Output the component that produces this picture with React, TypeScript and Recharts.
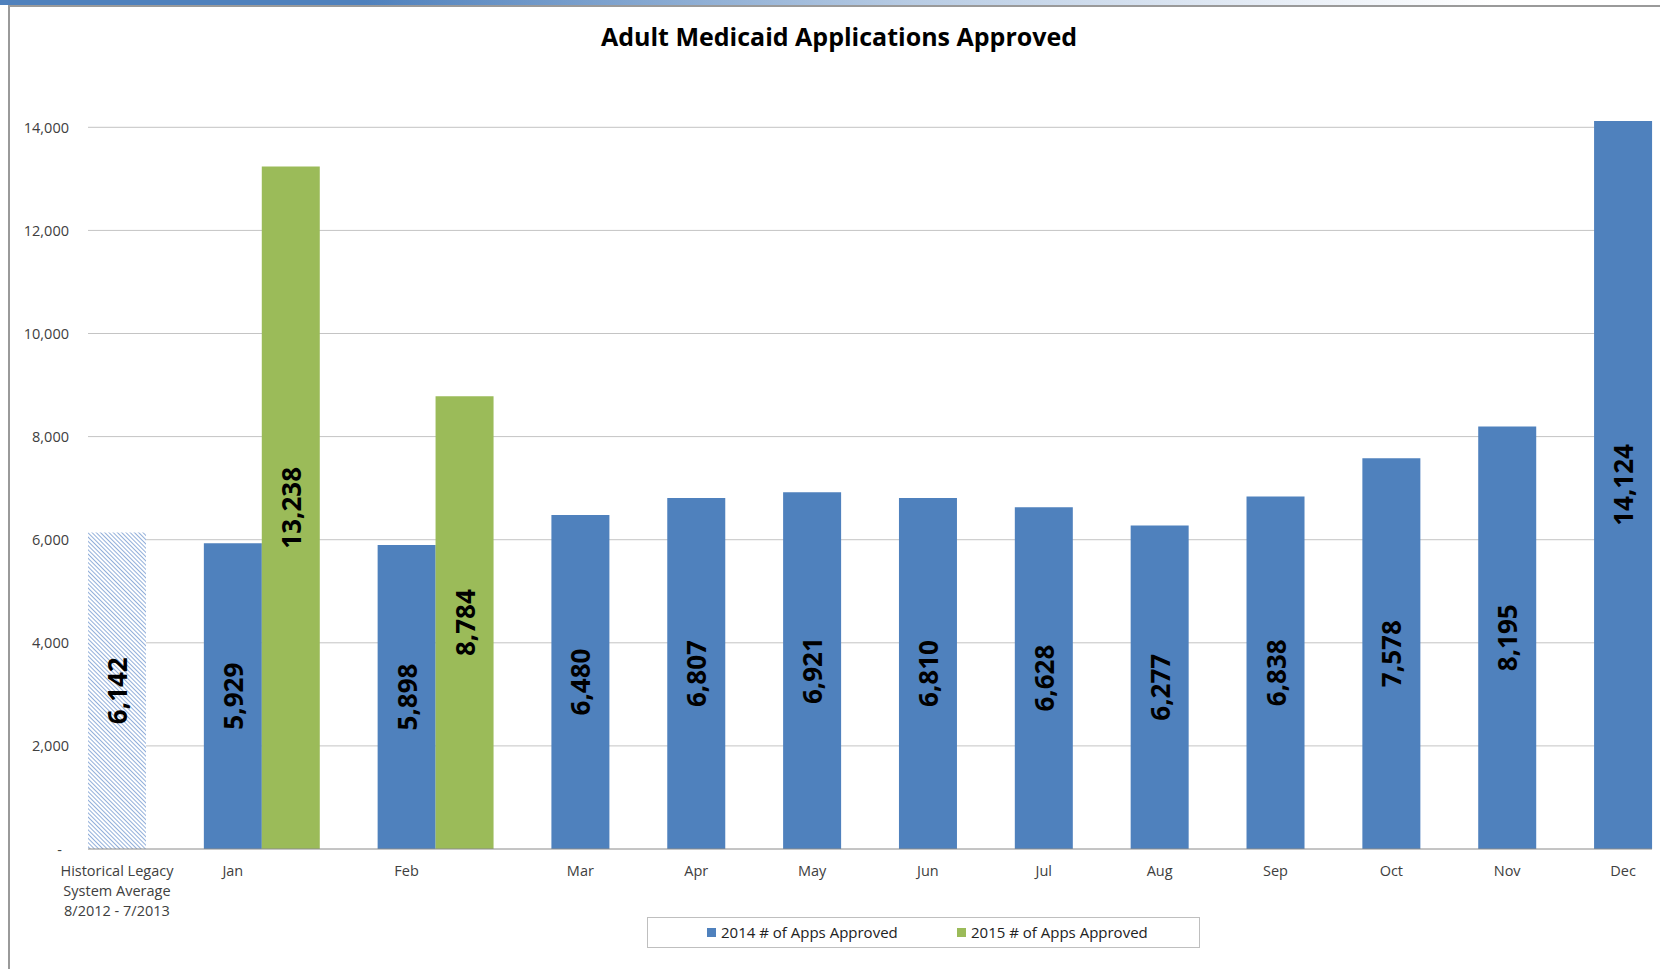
import React from 'react';
import { BarChart, Bar, XAxis, YAxis, CartesianGrid, Legend, LabelList } from 'recharts';

const chartTitle = 'Adult Medicaid Applications Approved';
const historicalLabel = ['Historical Legacy', 'System Average', '8/2012 - 7/2013'];
const historicalValue = 6142;
const months = ['Jan', 'Feb', 'Mar', 'Apr', 'May', 'Jun', 'Jul', 'Aug', 'Sep', 'Oct', 'Nov', 'Dec'];
const apps2014 = [5929, 5898, 6480, 6807, 6921, 6810, 6628, 6277, 6838, 7578, 8195, 14124];
const apps2015 = [13238, 8784]; // Jan, Feb
const yTicks = [0, 2000, 4000, 6000, 8000, 10000, 12000, 14000];
const series2014Name = '2014 # of Apps Approved';
const series2015Name = '2015 # of Apps Approved';

type Slot = { key: string; label: string[]; hist?: number; y2014?: number; y2015?: number };

const slots: Slot[] = [];
slots.push({ key: 'hist', label: historicalLabel, hist: historicalValue });
months.forEach((m, i) => {
  slots.push({ key: `gap-${m}`, label: [] });
  slots.push({ key: m, label: [m], y2014: apps2014[i] });
  if (apps2015[i] !== undefined) slots.push({ key: `${m}-2015`, label: [], y2015: apps2015[i] });
});

const FONT = '"Open Sans", "Liberation Sans", sans-serif';
const BLUE = '#4f81bd';
const GREEN = '#9bbb59';

const fmt = (v: number) => (v === 0 ? '-' : v.toLocaleString('en-US'));

const YTick = (props: any) => {
  const { x, y, payload } = props;
  const v = payload.value as number;
  return (
    <text
      x={v === 0 ? x - 26 : x - 19}
      y={y}
      textAnchor="end"
      dominantBaseline="central"
      fontFamily={FONT}
      fontSize={14.5}
      fill="#404040"
    >
      {fmt(v)}
    </text>
  );
};

const XTick = (props: any) => {
  const { x, y, payload, index } = props;
  const slot = slots[index ?? payload.index];
  if (!slot || slot.label.length === 0) return null;
  return (
    <text x={x} y={y} textAnchor="middle" fontFamily={FONT} fontSize={14.5} fill="#404040">
      {slot.label.map((line, i) => (
        <tspan key={i} x={x} y={y + 27 + i * 20}>
          {line}
        </tspan>
      ))}
    </text>
  );
};

const BarLabel = (props: any) => {
  const vb = props.viewBox && props.viewBox.width !== undefined ? props.viewBox : props;
  const { value } = props;
  if (value === null || value === undefined || value === 0) return null;
  const cx = vb.x + vb.width / 2;
  const cy = vb.y + vb.height / 2;
  return (
    <text
      x={cx}
      y={cy}
      transform={`rotate(-90, ${cx}, ${cy})`}
      textAnchor="middle"
      dominantBaseline="central"
      fontFamily={FONT}
      fontSize={26}
      fontWeight={700}
      fill="#000"
    >
      {Number(value).toLocaleString('en-US')}
    </text>
  );
};

const LegendContent = (props: any) => {
  const payload = (props.payload || []).filter((p: any) => p.type !== 'none');
  const lefts = [59, 309];
  return (
    <div
      style={{
        position: 'relative',
        boxSizing: 'border-box',
        width: 553,
        height: 31,
        border: '1px solid #bfbfbf',
        background: '#fff',
        fontFamily: FONT,
        fontSize: 15,
        color: '#222',
      }}
    >
      {payload.map((p: any, i: number) => (
        <div
          key={p.value}
          style={{
            position: 'absolute',
            left: lefts[i] ?? 60 + i * 250,
            top: 0,
            height: 28,
            display: 'flex',
            alignItems: 'center',
            whiteSpace: 'nowrap',
          }}
        >
          <span style={{ display: 'inline-block', width: 9, height: 9, background: p.color, marginRight: 5 }} />
          <span>{p.value}</span>
        </div>
      ))}
    </div>
  );
};

export default function App() {
  return (
    <div
      style={{
        position: 'absolute',
        left: 0,
        top: 0,
        width: 1660,
        height: 969,
        background: '#fff',
        overflow: 'hidden',
      }}
    >
      <div
        style={{
          position: 'absolute',
          left: 0,
          top: 0,
          width: 1660,
          height: 5,
          background: 'linear-gradient(to right, #4f81bd 0%, #4f81bd 22%, #b8cce4 55%, #e9eff7 78%, #ffffff 90%)',
        }}
      />
      <div style={{ position: 'absolute', left: 8, top: 5, width: 1652, height: 1.5, background: '#9a9a9a' }} />
      <div style={{ position: 'absolute', left: 8, top: 5, width: 2, height: 964, background: '#9a9a9a' }} />
      <div
        style={{
          position: 'absolute',
          left: 0,
          top: 19,
          width: 1678,
          textAlign: 'center',
          fontFamily: FONT,
          fontWeight: 700,
          fontSize: 25,
          lineHeight: '34px',
          color: '#000',
        }}
      >
        {chartTitle}
      </div>
      <div style={{ position: 'absolute', left: 0, top: 0 }}>
        <BarChart
          width={1660}
          height={969}
          data={slots}
          margin={{ top: 117, right: 8, left: 8, bottom: 0 }}
          barCategoryGap={0}
          barGap={0}
        >
          <defs>
            <pattern id="hatch" patternUnits="userSpaceOnUse" width="3" height="3" patternTransform="rotate(-45)">
              <rect width="3" height="3" fill="#ffffff" />
              <line x1="0" y1="0" x2="0" y2="3" stroke="#86a6d6" strokeWidth="1.8" />
            </pattern>
          </defs>
          <CartesianGrid vertical={false} stroke="#c4c4c4" strokeWidth={1} horizontalValues={yTicks.filter((t) => t > 0)} />
          <XAxis
            dataKey="key"
            interval={0}
            tick={<XTick />}
            tickLine={false}
            tickSize={0}
            tickMargin={0}
            height={120}
            axisLine={{ stroke: '#8a8a8a', strokeWidth: 1 }}
          />
          <YAxis
            width={80}
            domain={[0, 14200]}
            ticks={yTicks}
            tick={<YTick />}
            tickLine={false}
            tickSize={0}
            tickMargin={0}
            axisLine={false}
            allowDataOverflow
          />
          <Legend
            layout="horizontal"
            verticalAlign="middle"
            align="center"
            content={<LegendContent />}
            wrapperStyle={{ left: 647, top: 917, width: 553, height: 31, bottom: 'auto', right: 'auto' }}
          />
          <Bar dataKey="hist" stackId="s" fill="url(#hatch)" legendType="none" isAnimationActive={false}>
            <LabelList dataKey="hist" content={<BarLabel />} />
          </Bar>
          <Bar dataKey="y2014" name={series2014Name} stackId="s" fill={BLUE} isAnimationActive={false}>
            <LabelList dataKey="y2014" content={<BarLabel />} />
          </Bar>
          <Bar dataKey="y2015" name={series2015Name} stackId="s" fill={GREEN} isAnimationActive={false}>
            <LabelList dataKey="y2015" content={<BarLabel />} />
          </Bar>
        </BarChart>
      </div>
    </div>
  );
}
